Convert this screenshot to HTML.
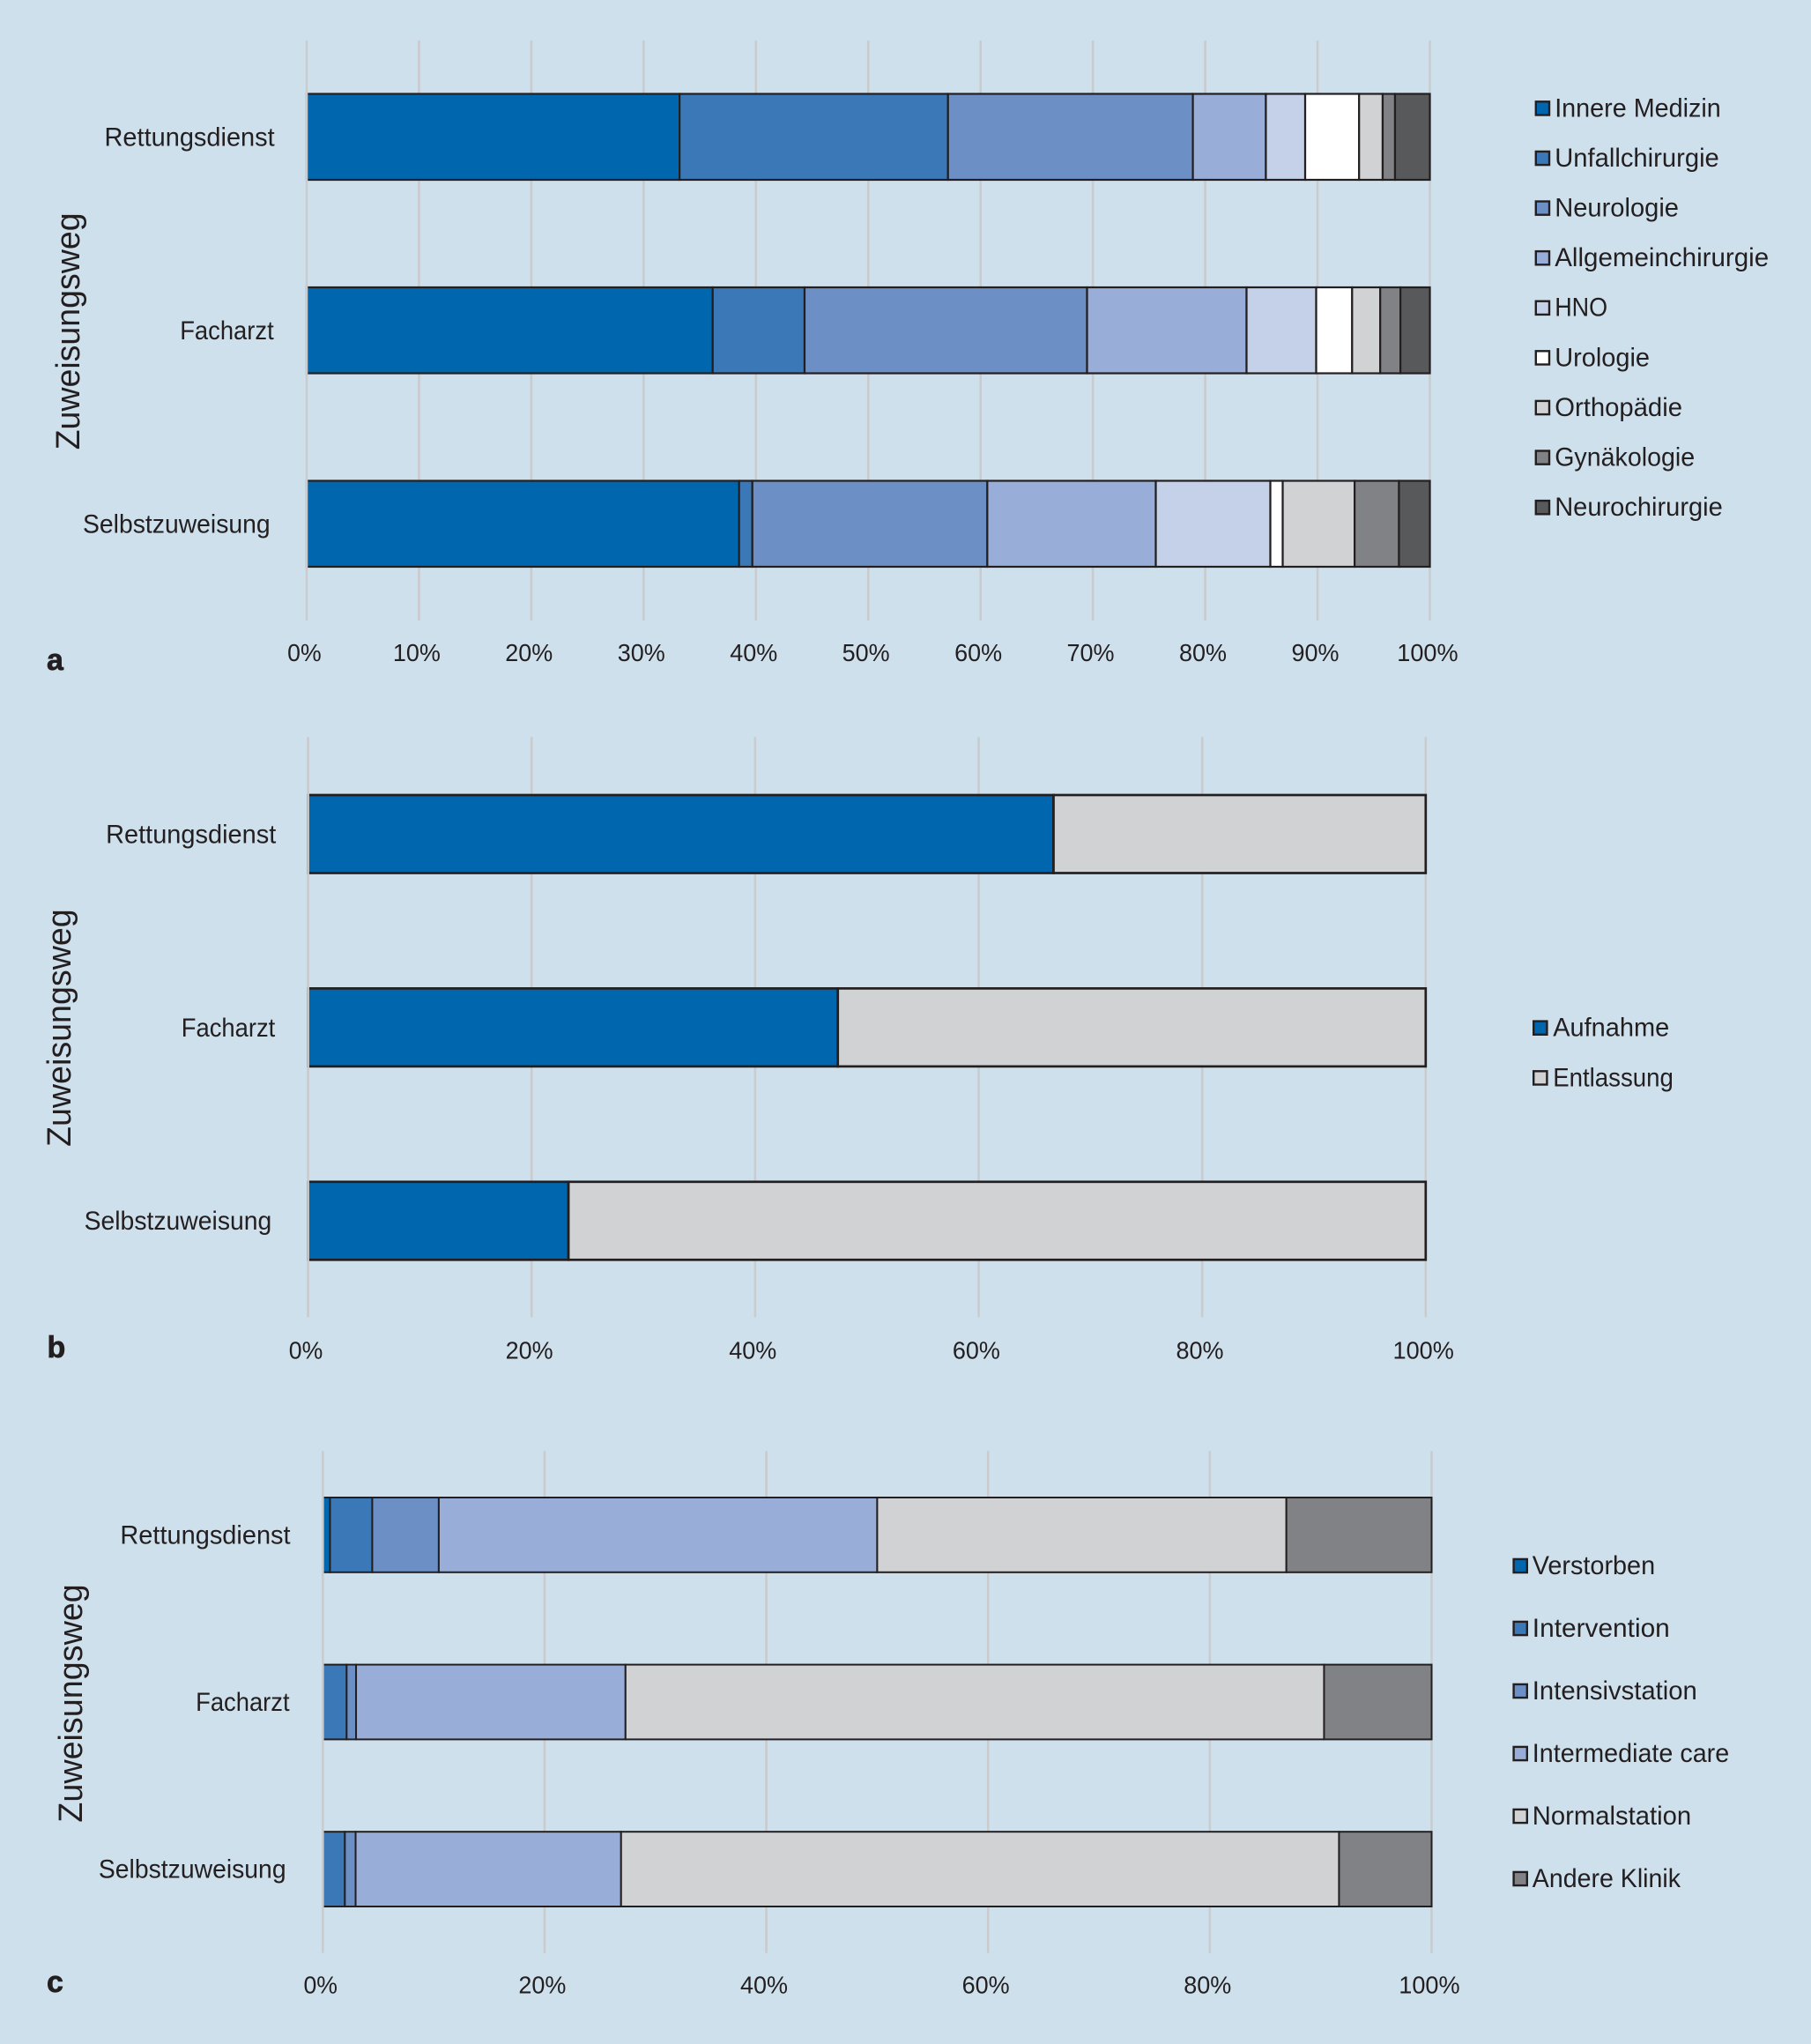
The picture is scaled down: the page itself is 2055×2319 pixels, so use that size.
<!DOCTYPE html>
<html lang="de">
<head>
<meta charset="utf-8">
<title>Zuweisungsweg</title>
<style>
html,body{margin:0;padding:0;background:#cfe0ed;}
svg{display:block;}
text{font-family:"Liberation Sans",sans-serif;fill:#231f20;}
</style>
</head>
<body>
<svg id="figure" xmlns="http://www.w3.org/2000/svg" width="2055" height="2319" viewBox="0 0 2055 2319">
<rect x="0" y="0" width="2055" height="2319" fill="#cfe0ed"/>
</svg>
<script>
// ---- shared categories ----
const categories = ["Rettungsdienst", "Facharzt", "Selbstzuweisung"];
const axisTitle = "Zuweisungsweg";

// ---- panel a ----
const seriesNamesA = ["Innere Medizin", "Unfallchirurgie", "Neurologie", "Allgemeinchirurgie", "HNO", "Urologie", "Orthopädie", "Gynäkologie", "Neurochirurgie"];
const valuesA_Rettungsdienst = [33.2, 23.9, 21.8, 6.5, 3.5, 4.8, 2.1, 1.1, 3.1];
const valuesA_Facharzt = [36.15, 8.18, 25.15, 14.2, 6.2, 3.2, 2.5, 1.8, 2.62];
const valuesA_Selbstzuweisung = [38.5, 1.18, 20.92, 15.0, 10.2, 1.1, 6.4, 3.95, 2.75];
const ticksA = [0, 10, 20, 30, 40, 50, 60, 70, 80, 90, 100];

// ---- panel b ----
const seriesNamesB = ["Aufnahme", "Entlassung"];
const valuesB_Rettungsdienst = [66.7, 33.3];
const valuesB_Facharzt = [47.4, 52.6];
const valuesB_Selbstzuweisung = [23.3, 76.7];
const ticksB = [0, 20, 40, 60, 80, 100];

// ---- panel c ----
const seriesNamesC = ["Verstorben", "Intervention", "Intensivstation", "Intermediate care", "Normalstation", "Andere Klinik"];
const valuesC_Rettungsdienst = [0.65, 3.81, 6.0, 39.54, 36.9, 13.1];
const valuesC_Facharzt = [0, 2.15, 0.85, 24.3, 63.0, 9.7];
const valuesC_Selbstzuweisung = [0, 1.99, 0.97, 23.94, 64.75, 8.35];
const ticksC = [0, 20, 40, 60, 80, 100];

// ---- styling ----
const colorsA = ["#0066ae", "#3a78b8", "#6c90c6", "#98aed8", "#c5d1e9", "#ffffff", "#d0d2d4", "#808285", "#58595b"];
const colorsB = ["#0066ae", "#d0d2d4"];
const colorsC = ["#0066ae", "#3a78b8", "#6c90c6", "#98aed8", "#d0d2d4", "#808285"];
const INK = "#231f20";
const GRID = "#c9cbcd";

// rendered widths of the source typeface, used to fit the substitute font
const fitWidth = {
  "Rettungsdienst": 193.2, "Facharzt": 106.5, "Selbstzuweisung": 212.7,
  "Innere Medizin": 188.6, "Unfallchirurgie": 186.6, "Neurologie": 140.8, "Allgemeinchirurgie": 243,
  "HNO": 60, "Urologie": 107.8, "Orthopädie": 144.8, "Gynäkologie": 159, "Neurochirurgie": 190.6,
  "Aufnahme": 132, "Entlassung": 136.7,
  "Verstorben": 139.3, "Intervention": 156, "Intensivstation": 187, "Intermediate care": 223.4,
  "Normalstation": 180.3, "Andere Klinik": 168.2
};
const labelNudge = { "Rettungsdienst": 0, "Facharzt": 1, "Selbstzuweisung": 5 };

const svg = document.getElementById("figure");
const NS = "http://www.w3.org/2000/svg";

function make(tag, attrs, parent, text) {
  const node = document.createElementNS(NS, tag);
  for (const key in attrs) node.setAttribute(key, attrs[key]);
  if (text !== undefined) node.textContent = text;
  parent.appendChild(node);
  return node;
}

function tickWidth(label) {
  return label.length === 2 ? 38.5 : (label.length === 3 ? 54 : 69.3);
}

function drawPanel(p) {
  const xScale = v => p.x0 + (v / 100) * (p.x100 - p.x0);
  const panel = make("g", {}, svg);
  
  

  // gridlines (the zero line is painted after the bars)
  p.ticks.forEach(t => {
    if (t === 0) return;
    const line = make("line", { x1: xScale(t), x2: xScale(t), y1: p.gridTop, y2: p.gridBottom, stroke: GRID, "stroke-width": 2.6 }, panel);
    
    
  });

  // stacked bars
  p.rows.forEach((row, r) => {
    const top = p.barTop + r * p.barStep;
    let cumulative = 0;
    row.forEach((value, s) => {
      const start = cumulative;
      cumulative += value;
      if (value <= 0) return;
      const seg = make("rect", {
        x: xScale(start), y: top,
        width: xScale(cumulative) - xScale(start), height: p.barHeight,
        fill: p.colors[s], stroke: INK, "stroke-width": p.barStroke
      }, panel);
      
      
    });

    const name = categories[r];
    const label = make("text", {
      x: p.labelRight - labelNudge[name], y: top + p.barHeight / 2 + 10.1,
      "text-anchor": "end", "font-size": 30,
      textLength: fitWidth[name], lengthAdjust: "spacingAndGlyphs"
    }, panel, name);
    
    
  });

  const zero = make("line", { x1: xScale(0), x2: xScale(0), y1: p.gridTop, y2: p.gridBottom, stroke: GRID, "stroke-width": 2.6 }, panel);
  
  

  // x tick labels
  p.ticks.forEach(t => {
    const str = t + "%";
    const tick = make("text", {
      x: xScale(t) - 2.6, y: p.tickBaseline, "text-anchor": "middle", "font-size": 28,
      textLength: tickWidth(str), lengthAdjust: "spacingAndGlyphs"
    }, panel, str);
    
    
  });

  // y axis title
  const title = make("text", {
    transform: "translate(" + p.titleX + "," + p.titleY + ") rotate(-90)",
    "font-size": 38, textLength: p.titleLength, lengthAdjust: "spacingAndGlyphs"
  }, panel, axisTitle);
  
  

  // panel letter
  const letter = make("text", {
    x: p.letterX, y: p.letterY, "font-size": 34, "font-weight": "bold",
    stroke: INK, "stroke-width": 0.7
  }, panel, p.letter);
  
  

  // legend
  p.names.forEach((name, i) => {
    const cy = p.legendTop + i * p.legendStep;
    const entry = make("g", {}, panel);
    
    
    const swatch = make("rect", {
      x: p.legendX + 1.2, y: cy - 7.6, width: 15.2, height: 15.2,
      fill: p.colors[i], stroke: INK, "stroke-width": 2.4
    }, entry);
    
    
    const text = make("text", {
      x: p.legendTextX - 0.8, y: cy + 9.4, "font-size": 30,
      textLength: fitWidth[name], lengthAdjust: "spacingAndGlyphs"
    }, entry, name);
    
    
  });
}

drawPanel({
  letter: "a", names: seriesNamesA, colors: colorsA, ticks: ticksA,
  rows: [valuesA_Rettungsdienst, valuesA_Facharzt, valuesA_Selbstzuweisung],
  x0: 348, x100: 1622.5, gridTop: 46, gridBottom: 704,
  barTop: 106.5, barStep: 219.5, barHeight: 97.5, barStroke: 2.2,
  labelRight: 311.7, tickBaseline: 750,
  titleX: 89.8, titleY: 510.4, titleLength: 269,
  letterX: 53, letterY: 760,
  legendX: 1741.6, legendTextX: 1765, legendTop: 122.9, legendStep: 56.6
});

drawPanel({
  letter: "b", names: seriesNamesB, colors: colorsB, ticks: ticksB,
  rows: [valuesB_Rettungsdienst, valuesB_Facharzt, valuesB_Selbstzuweisung],
  x0: 349.6, x100: 1617.8, gridTop: 836.3, gridBottom: 1494.5,
  barTop: 902, barStep: 219.4, barHeight: 88.5, barStroke: 2.7,
  labelRight: 313.3, tickBaseline: 1541.3,
  titleX: 80, titleY: 1301, titleLength: 269.7,
  letterX: 53.5, letterY: 1539.8,
  legendX: 1739, legendTextX: 1763, legendTop: 1166.2, legendStep: 56.7
});

drawPanel({
  letter: "c", names: seriesNamesC, colors: colorsC, ticks: ticksC,
  rows: [valuesC_Rettungsdienst, valuesC_Facharzt, valuesC_Selbstzuweisung],
  x0: 366.3, x100: 1624.5, gridTop: 1646.3, gridBottom: 2215.8,
  barTop: 1699, barStep: 189.6, barHeight: 84.8, barStroke: 2,
  labelRight: 329.6, tickBaseline: 2261.6,
  titleX: 92.9, titleY: 2067.7, titleLength: 270.5,
  letterX: 53, letterY: 2260,
  legendX: 1716.4, legendTextX: 1739.6, legendTop: 1776.5, legendStep: 71
});
</script>
</body>
</html>
